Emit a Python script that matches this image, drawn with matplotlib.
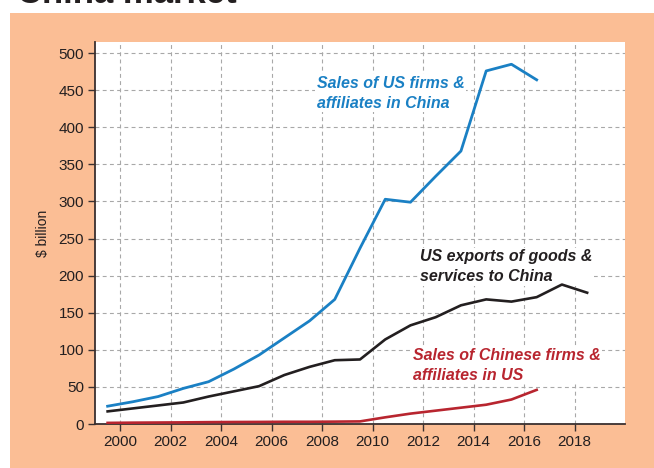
import numpy as np
import matplotlib.pyplot as plt
from matplotlib.patches import Rectangle

# data (mid-year points)
years = np.arange(1999, 2019) + 0.5
us_sales_china = [24, 30, 37, 48, 57, 74, 93, 116, 139, 168, 237, 303, 299, 334, 368, 476, 485, 464]
us_exports = [17, 21, 25, 29, 37, 44, 51, 66, 77, 86, 87, 114, 133, 144, 160, 168, 165, 171, 188, 177]
cn_sales_us = [1.5, 1.8, 2, 2.2, 2.5, 2.7, 2.8, 3, 3, 3.2, 3.5, 9, 14, 18, 22, 26, 33, 46]

xticks = list(range(2000, 2019, 2))
yticks = list(range(0, 501, 50))

peach = '#FBBE95'
blue = '#1A80C4'
black = '#231F20'
red = '#B8252F'

plt.rcParams['font.family'] = ['Liberation Sans', 'DejaVu Sans']

fig = plt.figure(figsize=(6.54, 4.68), dpi=100)
fig.patch.set_facecolor('white')
fig.patches.append(Rectangle((10/654, 0), 1 - 10/654, (468 - 13)/468,
                             transform=fig.transFigure, facecolor=peach,
                             edgecolor='none', zorder=-5))

# cut-off title at the very top
fig.text(17/654, 1 - 3/468, 'China market', fontsize=25, fontweight='bold',
         color=black, ha='left', va='baseline')

ax = fig.add_axes([95/654, 1 - 424/468, 530/654, 382/468])
ax.set_zorder(2)
ax.set_facecolor('white')

ax.plot(years[:len(us_sales_china)], us_sales_china, color=blue, lw=2.0, zorder=3)
ax.plot(years[:len(us_exports)], us_exports, color=black, lw=1.9, zorder=3)
ax.plot(years[:len(cn_sales_us)], cn_sales_us, color=red, lw=1.9, zorder=3)

ax.set_xlim(1999, 2020)
ax.set_ylim(0, 515)
ax.set_xticks(xticks)
ax.set_yticks(yticks)
ax.grid(True, color='#a8a8a8', linestyle=(0, (3.5, 3)), linewidth=0.8)
ax.set_axisbelow(True)

for s in ['top', 'right']:
    ax.spines[s].set_visible(False)
for s in ['left', 'bottom']:
    ax.spines[s].set_color('#3a3030')
    ax.spines[s].set_linewidth(1.3)

ax.tick_params(direction='out', length=5, width=1, color='#3a3030',
               labelsize=11, labelcolor=black, pad=3)
ax.set_ylabel('$ billion', fontsize=10, color=black, labelpad=6)

box = dict(facecolor='white', edgecolor='none', pad=1)
ax.text(2000 + (317 - 121)/25.17, 446, 'Sales of US firms &\naffiliates in China',
        color=blue, fontsize=11.5, fontweight='bold', fontstyle='italic',
        va='center', ha='left', linespacing=1.4, bbox=box, zorder=2)
ax.text(2000 + (420 - 121)/25.17, 212, 'US exports of goods &\nservices to China',
        color=black, fontsize=11.5, fontweight='bold', fontstyle='italic',
        va='center', ha='left', linespacing=1.4, bbox=box, zorder=2)
ax.text(2000 + (413 - 121)/25.17, 79, 'Sales of Chinese firms &\naffiliates in US',
        color=red, fontsize=11.5, fontweight='bold', fontstyle='italic',
        va='center', ha='left', linespacing=1.4, bbox=box, zorder=2)

fig.savefig('out.png', dpi=100)
